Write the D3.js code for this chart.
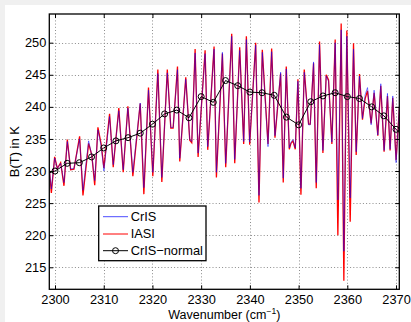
<!DOCTYPE html>
<html><head><meta charset="utf-8">
<script src="https://cdn.jsdelivr.net/npm/d3@7"></script>
<style>
html,body{margin:0;padding:0;background:#f0f0f0;}
svg{display:block;}
text{font-family:"Liberation Sans",Arial,Helvetica,sans-serif;fill:#000;}
</style></head><body>
<svg id="c" width="411" height="322"></svg>
<script>
// ---- data ----
const wavenumber = [2298.8,2299.25,2299.93,2300.48,2301.16,2301.84,2302.53,2303.21,2303.89,2305.05,
  2305.74,2306.90,2307.55,2308.15,2308.81,2309.49,2310.04,2311.20,2311.95,2313.10,
  2314.00,2314.96,2315.98,2317.49,2318.24,2319.19,2320.08,2321.11,2321.93,2323.05,
  2323.77,2324.25,2325.14,2325.61,2326.84,2327.66,2328.07,2328.76,2329.37,2330.81,
  2331.35,2332.65,2333.13,2334.36,2335.04,2336.27,2336.89,2337.91,2338.73,2339.28,
  2339.96,2341.19,2341.87,2342.55,2343.72,2344.47,2345.15,2346.31,2346.85,2347.47,
  2348.09,2348.43,2348.84,2349.32,2349.86,2350.48,2351.16,2352.05,2352.39,2353.07,
  2353.62,2354.30,2354.99,2355.67,2356.15,2356.83,2357.51,2358.06,2358.74,2359.29,
  2359.90,2360.59,2361.27,2361.82,2362.50,2363.11,2363.66,2364.14,2364.89,2365.50,
  2366.26,2366.87,2367.55,2368.24,2368.78,2369.33,2370.01,2370.70];
const iasi = [230.6,226.6,232.2,230.4,231.3,227.7,234.9,230.2,230.3,235.4,
  226.2,234.3,232.5,227.8,236.8,234.1,230.5,238.9,230.6,239.8,
  229.8,240.1,229.2,240.5,226.4,243.0,229.2,245.8,228.3,245.8,
  236.7,236.7,246.3,231.5,244.6,234.8,234.4,249.0,232.2,248.8,
  233.3,249.4,229.0,248.3,230.6,251.4,231.2,249.3,234.2,251.0,
  234.1,250.0,225.1,248.9,234.2,249.1,235.2,245.2,228.2,246.3,
  233.4,234.3,234.7,233.4,244.3,226.3,245.8,237.3,237.3,246.8,
  227.3,250.2,232.8,245.0,244.2,234.2,250.5,220.0,253.0,212.9,
  251.9,222.1,249.9,232.5,245.1,238.0,241.3,242.5,237.4,242.2,
  235.5,243.3,233.0,241.7,233.2,241.4,231.7,240.0];
const cris = [230.6,227.2,232.0,230.4,231.2,228.2,234.6,230.3,230.4,235.0,
  227.0,234.7,232.4,228.5,236.4,233.8,230.0,238.5,231.0,239.4,
  230.2,239.8,229.8,240.6,227.4,242.6,229.8,245.2,229.0,245.3,
  236.8,236.8,245.8,232.0,244.3,234.9,234.6,248.4,232.8,248.3,
  233.8,249.0,229.8,248.5,231.2,251.0,231.8,248.8,234.6,250.5,
  234.5,249.6,226.2,248.5,233.8,248.6,235.5,245.4,228.9,245.9,
  233.6,234.5,234.9,233.6,244.0,227.3,245.4,237.2,237.2,247.0,
  228.2,249.7,233.2,244.8,244.0,234.5,250.0,225.5,252.0,217.5,
  251.0,225.8,249.0,233.0,244.8,238.2,241.9,243.0,237.2,242.6,
  235.6,243.6,233.2,242.1,233.4,241.7,231.3,240.3];
const normalWavenumber = [2297.5,2300,2302.5,2305,2307.5,2310,2312.5,2315,2317.5,2320,
  2322.5,2325,2327.5,2330,2332.5,2335,2337.5,2340,2342.5,2345,
  2347.5,2350,2352.5,2355,2357.5,2360,2362.5,2365,2367.5,2370,2372.5];
const crisNormal = [229.4,230.0,231.2,231.3,232.2,233.6,234.7,235.2,235.9,237.3,
  238.9,239.5,238.3,241.6,240.7,244.1,243.3,242.3,242.2,241.8,
  238.4,237.2,240.8,241.7,242.2,241.6,241.3,240.0,238.6,236.5,234.6];
const xTicks = [2300,2310,2320,2330,2340,2350,2360,2370];
const yTicks = [215,220,225,230,235,240,245,250];
const legendLabels = ["CrIS","IASI","CrIS\u2212normal"];
const xDomain = [2298.83, 2370.67];
const yDomain = [211.57, 254.47];

// ---- drawing ----
const svg = d3.select("#c");
svg.append("rect").attr("x",5).attr("y",5).attr("width",406).attr("height",317).attr("fill","#fff");
const L=49.3,R=399.3,T=14,B=289.3;
const x = d3.scaleLinear().domain(xDomain).range([L,R]);
const y = d3.scaleLinear().domain(yDomain).range([B,T]);
const FS = "12.8px";

svg.append("defs").append("clipPath").attr("id","clip")
  .append("rect").attr("x",L).attr("y",T).attr("width",R-L).attr("height",B-T);

// grid
const grid = svg.append("g").attr("stroke","#8c8c8c").attr("stroke-width",1).attr("stroke-dasharray","1,2.2");
grid.selectAll(".gx").data(xTicks).enter().append("line")
  .attr("x1",d=>Math.round(x(d))+0.5).attr("x2",d=>Math.round(x(d))+0.5).attr("y1",T).attr("y2",B);
grid.selectAll(".gy").data(yTicks).enter().append("line")
  .attr("y1",d=>Math.round(y(d))+0.5).attr("y2",d=>Math.round(y(d))+0.5).attr("x1",L).attr("x2",R);

// series
const plot = svg.append("g").attr("clip-path","url(#clip)");
const lineI = d3.line().x((d,i)=>x(wavenumber[i])).y(d=>y(d));
plot.append("path").datum(iasi).attr("d",lineI).attr("fill","none")
  .attr("stroke","#ff0000").attr("stroke-width",1.3).attr("stroke-linejoin","miter");
plot.append("path").datum(cris).attr("d",lineI).attr("fill","none")
  .attr("stroke","#0000ff").attr("stroke-opacity",0.5).attr("stroke-width",1);
const lineN = d3.line().x((d,i)=>x(normalWavenumber[i])).y(d=>y(d));
plot.append("path").datum(crisNormal).attr("d",lineN).attr("fill","none")
  .attr("stroke","#000").attr("stroke-width",1);
plot.selectAll(".mk").data(crisNormal).enter().append("circle")
  .attr("cx",(d,i)=>x(normalWavenumber[i])).attr("cy",d=>y(d)).attr("r",3)
  .attr("fill","none").attr("stroke","#000").attr("stroke-width",1);

// axes
function styleAxis(g){ g.select(".domain").remove(); g.selectAll("line").attr("stroke","#000"); g.selectAll("text").style("font-size",FS).attr("fill","#000"); }
svg.append("g").attr("transform",`translate(0,${B})`)
  .call(d3.axisBottom(x).tickValues(xTicks).tickSizeInner(-4).tickSizeOuter(0).tickPadding(6).tickFormat(d3.format("d")))
  .call(styleAxis);
svg.append("g").attr("transform",`translate(0,${T})`)
  .call(d3.axisTop(x).tickValues(xTicks).tickSizeInner(-4).tickSizeOuter(0).tickFormat(""))
  .call(styleAxis);
svg.append("g").attr("transform",`translate(${L},0)`)
  .call(d3.axisLeft(y).tickValues(yTicks).tickSizeInner(-4).tickSizeOuter(0).tickPadding(3).tickFormat(d3.format("d")))
  .call(styleAxis);
svg.append("g").attr("transform",`translate(${R},0)`)
  .call(d3.axisRight(y).tickValues(yTicks).tickSizeInner(-4).tickSizeOuter(0).tickFormat(""))
  .call(styleAxis);
svg.append("rect").attr("x",L).attr("y",T).attr("width",R-L).attr("height",B-T)
  .attr("fill","none").attr("stroke","#000").attr("stroke-width",1.3);

// axis titles
const xl = svg.append("text").attr("x",(L+R)/2).attr("y",318.5).attr("text-anchor","middle").style("font-size","12.5px");
xl.append("tspan").text("Wavenumber (cm");
xl.append("tspan").attr("dy",-5).style("font-size","8.5px").text("\u22121");
xl.append("tspan").attr("dy",5).text(")");
svg.append("text").attr("transform",`translate(19,${(T+B)/2}) rotate(-90)`).attr("text-anchor","middle")
  .style("font-size","13px").text("B(T) in K");

// legend
const lg = svg.append("g");
lg.append("rect").attr("x",98.7).attr("y",206).attr("width",107.3).attr("height",54.7)
  .attr("fill","#fff").attr("stroke","#000").attr("stroke-width",1.3);
const ly = [216.7, 234, 250.7];
const lcol = ["#0000ff","#ff0000","#000"];
legendLabels.forEach((lab,i)=>{
  lg.append("line").attr("x1",103).attr("x2",128).attr("y1",ly[i]).attr("y2",ly[i])
    .attr("stroke",lcol[i]).attr("stroke-width",1).attr("stroke-opacity", i===0?0.7:1);
  if(i===2) lg.append("circle").attr("cx",115.5).attr("cy",ly[i]).attr("r",3).attr("fill","none").attr("stroke","#000");
  lg.append("text").attr("x",130.7).attr("y",ly[i]).attr("dy","0.35em").style("font-size",FS).text(lab);
});
</script>
</body></html>
